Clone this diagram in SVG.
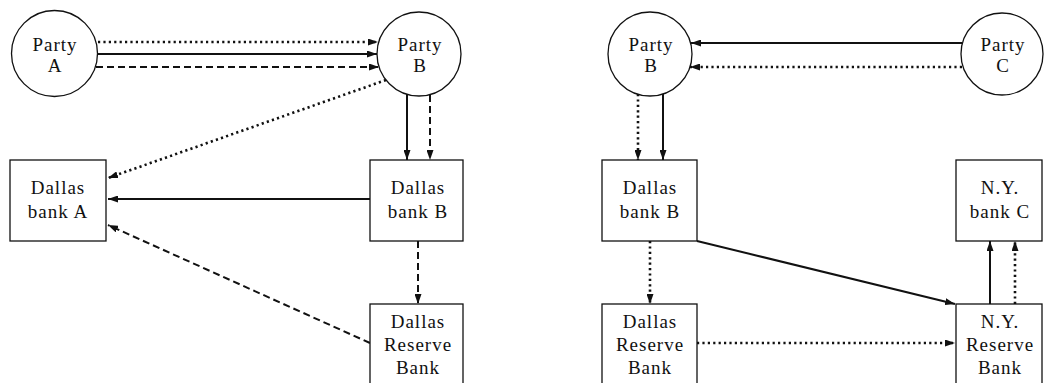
<svg xmlns="http://www.w3.org/2000/svg" width="1045" height="383" viewBox="0 0 1045 383">
  <style>
    .node { fill: #fff; stroke: #111; stroke-width: 1.3; }
    .lbl { font-family: "Liberation Serif", "Times New Roman", serif; font-size: 19px; letter-spacing: 1px; fill: #111; text-anchor: middle; }
    .solid { fill: none; stroke: #111; stroke-width: 2; }
    .dash { fill: none; stroke: #111; stroke-width: 2; stroke-dasharray: 7 4; }
    .dot { fill: none; stroke: #111; stroke-width: 2.6; stroke-dasharray: 2.2 3.2; }
  </style>
  <defs>
    <marker id="arrow" viewBox="0 0 10 7" refX="10" refY="3.5" markerWidth="10" markerHeight="7" markerUnits="userSpaceOnUse" orient="auto">
      <path d="M0,0 L10,3.5 L0,7 z" fill="#111"/>
    </marker>
  </defs>
  <rect width="1045" height="383" fill="#fff"/>

  <!-- connectors -->
  <g id="connectors">
    <!-- left panel -->
    <line class="dot" x1="98" y1="42" x2="378" y2="42" marker-end="url(#arrow)"/>
    <line class="solid" x1="97" y1="54" x2="377" y2="54" marker-end="url(#arrow)"/>
    <line class="dash" x1="96" y1="67" x2="379" y2="67" marker-end="url(#arrow)"/>
    <line class="dot" x1="386" y1="80" x2="108" y2="178" marker-end="url(#arrow)"/>
    <line class="solid" x1="407" y1="94" x2="407" y2="160" marker-end="url(#arrow)"/>
    <line class="dash" x1="430" y1="95" x2="430" y2="160" marker-end="url(#arrow)"/>
    <line class="solid" x1="370" y1="199" x2="108" y2="199" marker-end="url(#arrow)"/>
    <line class="dash" x1="418" y1="241" x2="418" y2="304" marker-end="url(#arrow)"/>
    <line class="dash" x1="370" y1="343" x2="108" y2="225" marker-end="url(#arrow)"/>
    <!-- right panel -->
    <line class="solid" x1="962" y1="43" x2="691" y2="43" marker-end="url(#arrow)"/>
    <line class="dot" x1="962" y1="67" x2="690" y2="67" marker-end="url(#arrow)"/>
    <line class="dot" x1="638" y1="94" x2="638" y2="160" marker-end="url(#arrow)"/>
    <line class="solid" x1="663" y1="94" x2="663" y2="160" marker-end="url(#arrow)"/>
    <line class="dot" x1="650" y1="241" x2="650" y2="304" marker-end="url(#arrow)"/>
    <line class="solid" x1="697" y1="241" x2="955" y2="304" marker-end="url(#arrow)"/>
    <line class="dot" x1="697" y1="343" x2="955" y2="343" marker-end="url(#arrow)"/>
    <line class="solid" x1="990" y1="304" x2="990" y2="241" marker-end="url(#arrow)"/>
    <line class="dot" x1="1015" y1="304" x2="1015" y2="241" marker-end="url(#arrow)"/>
  </g>

  <!-- left panel nodes -->
  <g id="party-a">
    <circle class="node" cx="54.5" cy="53.5" r="43"/>
    <text class="lbl" x="55" y="51">Party</text>
    <text class="lbl" x="55" y="72">A</text>
  </g>
  <g id="party-b-left">
    <circle class="node" cx="419" cy="54" r="42"/>
    <text class="lbl" x="420" y="51">Party</text>
    <text class="lbl" x="420" y="72">B</text>
  </g>
  <g id="dallas-bank-a">
    <rect class="node" x="10" y="160" width="96" height="81"/>
    <text class="lbl" x="58" y="194">Dallas</text>
    <text class="lbl" x="58" y="218">bank A</text>
  </g>
  <g id="dallas-bank-b-left">
    <rect class="node" x="370" y="160" width="93" height="81"/>
    <text class="lbl" x="418" y="194">Dallas</text>
    <text class="lbl" x="418" y="218">bank B</text>
  </g>
  <g id="dallas-reserve-left">
    <rect class="node" x="370" y="304" width="93" height="90"/>
    <text class="lbl" x="418" y="328">Dallas</text>
    <text class="lbl" x="418" y="351">Reserve</text>
    <text class="lbl" x="418" y="374">Bank</text>
  </g>

  <!-- right panel nodes -->
  <g id="party-b-right">
    <circle class="node" cx="650" cy="54" r="42"/>
    <text class="lbl" x="651" y="51">Party</text>
    <text class="lbl" x="651" y="72">B</text>
  </g>
  <g id="party-c">
    <circle class="node" cx="1002" cy="54" r="41"/>
    <text class="lbl" x="1003" y="51">Party</text>
    <text class="lbl" x="1003" y="72">C</text>
  </g>
  <g id="dallas-bank-b-right">
    <rect class="node" x="602" y="160" width="95" height="81"/>
    <text class="lbl" x="650" y="194">Dallas</text>
    <text class="lbl" x="650" y="218">bank B</text>
  </g>
  <g id="dallas-reserve-right">
    <rect class="node" x="602" y="304" width="95" height="90"/>
    <text class="lbl" x="650" y="328">Dallas</text>
    <text class="lbl" x="650" y="351">Reserve</text>
    <text class="lbl" x="650" y="374">Bank</text>
  </g>
  <g id="ny-bank-c">
    <rect class="node" x="956" y="160" width="86" height="81"/>
    <text class="lbl" x="1000" y="194">N.Y.</text>
    <text class="lbl" x="1000" y="218">bank C</text>
  </g>
  <g id="ny-reserve">
    <rect class="node" x="956" y="304" width="86" height="90"/>
    <text class="lbl" x="1000" y="328">N.Y.</text>
    <text class="lbl" x="1000" y="351">Reserve</text>
    <text class="lbl" x="1000" y="374">Bank</text>
  </g>
</svg>
